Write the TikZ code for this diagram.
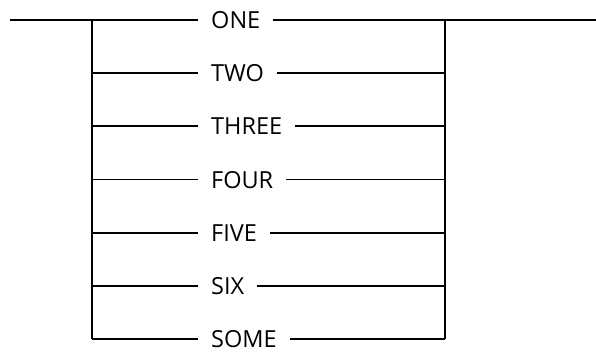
\documentclass[tikz,border=0pt]{standalone}
\usepackage{fontspec}
\setmainfont{Open Sans}
\begin{document}
\begin{tikzpicture}[x=1pt,y=-1pt,
  rail/.style={line width=1.8pt, line cap=butt},
  kw/.style={anchor=west, inner xsep=13pt, inner ysep=0pt, font=\fontsize{23.5}{26}\selectfont}]
\useasboundingbox (0,0) rectangle (596,352);
\coordinate (start) at (10,20);
\coordinate (finish) at (596,20);
\foreach \name/\txt [count=\i from 0] in {r0/ONE,r1/TWO,r2/THREE,r3/FOUR,r4/FIVE,r5/SIX,r6/SOME}{
  \coordinate (L\i) at (92,{20+53.2*\i});
  \coordinate (R\i) at (445,{20+53.2*\i});
  \node[kw] (\name) at (198,{20+53.2*\i}) {\txt};
  \draw[rail] (L\i) -- (\name.west);
  \draw[rail] (\name.east) -- (R\i);
}
\draw[rail] (start) -- (L0);
\draw[rail] (R0) -- (finish);
\draw[rail] (L0) -- (L6);
\draw[rail] (R0) -- (R6);
\end{tikzpicture}
\end{document}
